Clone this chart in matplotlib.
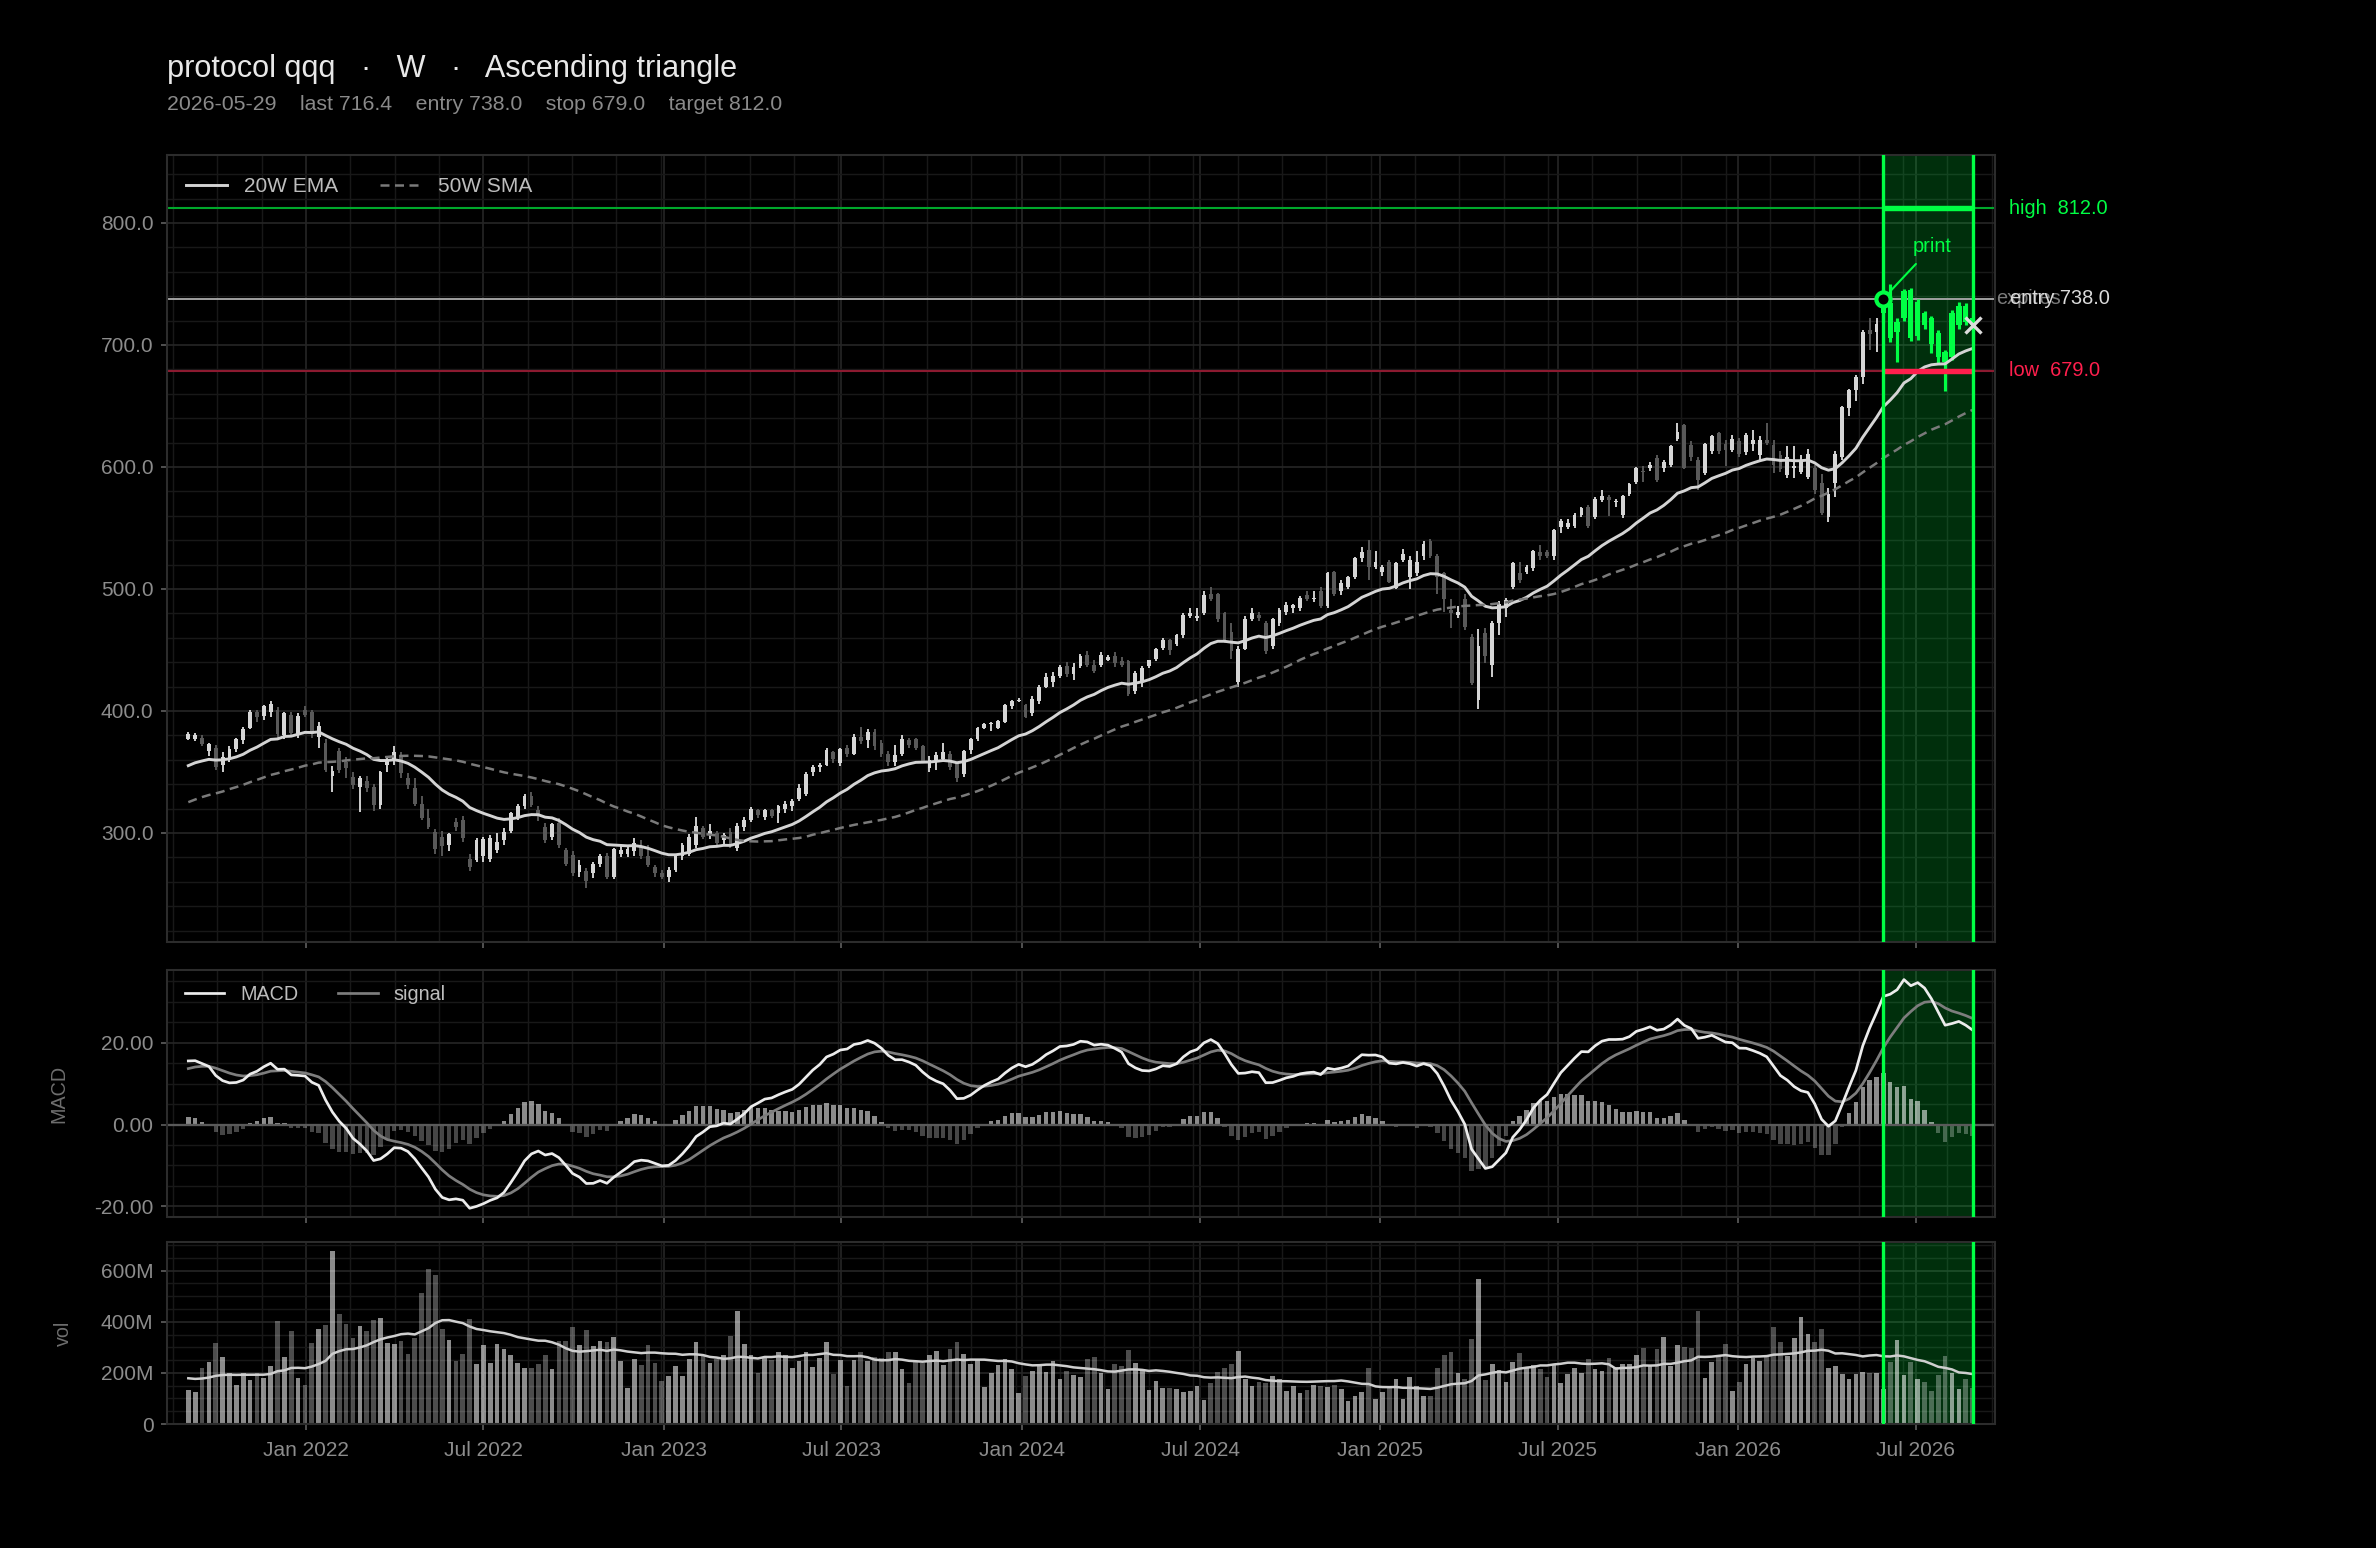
import numpy as np
import pandas as pd
import matplotlib
matplotlib.use("Agg")
import matplotlib.pyplot as plt
import matplotlib.dates as mdates
import matplotlib.transforms as mtransforms
from matplotlib.ticker import AutoMinorLocator, MultipleLocator, FixedLocator, FuncFormatter

plt.rcParams['font.family'] = ['Liberation Sans', 'DejaVu Sans']

# ---------------- data ----------------
first_bar = '2021-09-03'
n_bars = 261

opens = [377,377,378,367,370,356,360,369,376,386,
         399,396,399,401,380,397,381,401,399,379,
         374,347,367,358,346,338,343,338,323,356,
         359,364,345,337,324,312,301,297,290,309,
         311,279,278,281,279,286,294,302,313,322,
         330,319,305,297,308,286,282,268,269,267,
         275,281,264,283,283,285,289,281,272,267,
         264,270,281,283,290,304,298,300,294,301,
         288,305,311,319,313,319,316,320,322,328,
         332,350,354,356,366,357,370,365,379,376,
         383,374,365,358,365,376,377,371,353,360,
         361,365,357,348,368,377,386,389,386,391,
         404,408,405,398,408,420,424,429,437,430,
         437,446,438,438,442,445,441,441,416,424,
         437,443,452,458,455,462,478,476,480,496,
         496,480,465,424,451,475,479,472,453,472,
         481,484,484,495,492,498,486,514,498,502,
         510,525,532,518,514,522,501,524,510,513,
         527,539,527,513,483,479,492,461,409,464,
         438,472,484,502,513,514,517,530,530,527,
         551,551,552,561,567,559,573,575,571,561,
         578,588,597,599,607,599,602,623,634,618,
         606,595,613,628,619,614,621,612,619,610,
         622,618,610,593,599,596,592,599,587,559,
         587,608,648,663,674,712,711,726,734,711,
         722,745,707,726,722,710,694,690,716,732,
         722]

highs = [383,382,380,374,372,366,371,378,387,401,
         401,405,408,403,399,399,398,404,401,391,
         377,355,370,362,350,347,347,340,351,362,
         371,366,349,345,330,320,303,302,300,312,
         314,283,296,297,298,300,304,317,324,332,
         334,322,308,308,312,288,285,278,271,276,
         283,284,288,290,289,296,294,290,274,270,
         272,283,292,299,313,306,307,302,300,304,
         308,313,321,320,320,320,323,326,328,340,
         350,356,357,370,367,370,372,381,387,385,
         385,376,367,372,380,378,378,372,363,366,
         374,367,358,368,378,387,390,391,393,406,
         409,411,406,412,421,431,432,438,440,439,
         447,449,442,448,446,448,444,442,433,437,
         442,452,460,459,463,480,484,484,498,502,
         497,481,472,453,478,484,481,474,476,484,
         489,488,494,498,498,502,514,515,507,511,
         526,534,540,531,520,524,522,533,527,531,
         539,541,529,514,492,486,496,463,467,468,
         474,490,493,522,522,520,532,536,532,549,
         557,557,562,567,569,575,581,577,574,577,
         587,600,601,604,610,606,618,636,635,621,
         608,620,626,629,622,626,624,628,630,625,
         636,622,613,617,617,610,615,602,594,583,
         613,650,664,675,712,722,722,740,750,722,
         746,747,738,728,724,712,696,729,735,734,
         726]

lows = [376,375,371,363,352,350,358,366,373,385,
        391,393,395,378,377,379,378,395,378,370,
        350,334,349,345,336,317,334,318,320,350,
        356,345,336,322,311,303,283,281,285,302,
        293,269,276,276,276,284,290,300,311,320,
        321,310,292,294,288,273,265,264,255,263,
        272,262,262,280,280,281,279,272,264,262,
        260,268,278,281,288,295,295,290,290,288,
        285,302,309,312,311,312,308,316,318,326,
        330,347,350,355,357,355,362,364,373,370,
        368,362,355,355,363,370,368,357,350,352,
        358,352,342,346,365,375,385,384,385,390,
        402,407,394,396,406,419,420,427,428,425,
        435,436,431,436,441,436,436,412,414,420,
        435,441,450,446,453,460,476,474,479,490,
        473,456,443,420,450,474,474,447,451,470,
        479,480,482,490,489,484,484,494,495,500,
        508,522,507,516,511,505,500,522,500,511,
        524,525,496,481,468,476,466,421,402,439,
        428,462,477,500,505,512,515,524,525,524,
        546,549,550,559,550,557,571,560,567,558,
        576,586,588,597,588,596,600,621,598,605,
        581,593,611,611,601,612,608,610,613,606,
        618,595,596,591,591,594,590,578,561,555,
        575,606,642,654,668,696,694,718,702,686,
        720,703,704,713,693,685,662,688,713,716,
        703]

closes = [381,380,373,373,354,362,369,377,385,399,
          395,404,406,381,398,382,396,397,381,388,
          352,351,352,353,339,345,337,323,350,360,
          366,349,339,324,312,305,287,289,299,305,
          296,272,294,295,296,293,301,316,322,330,
          323,314,294,307,290,275,267,274,261,275,
          281,264,287,286,287,292,281,274,267,264,
          270,282,290,297,306,297,302,292,298,289,
          306,311,320,315,319,314,322,324,326,337,
          348,354,356,368,361,369,365,379,375,383,
          371,365,358,364,377,372,370,359,360,364,
          366,354,345,367,377,386,389,390,392,405,
          408,409,395,410,420,428,429,436,430,436,
          445,438,433,446,444,439,438,414,431,435,
          442,451,458,450,462,479,480,478,495,492,
          475,457,449,451,475,480,476,449,475,483,
          487,487,493,492,493,486,513,496,505,510,
          525,530,518,522,518,506,521,529,524,522,
          537,527,510,492,480,481,469,423,453,445,
          472,488,491,521,507,518,531,527,527,548,
          556,554,561,566,552,574,576,573,572,576,
          586,599,596,602,589,604,617,629,599,608,
          589,619,625,613,614,623,611,626,622,622,
          620,602,598,608,601,605,611,581,562,578,
          611,649,663,674,711,709,717,734,706,719,
          744,706,735,716,701,690,686,726,732,719,
          716.4]

# weekly volume, millions of shares
volumes_m = [133,126,220,243,317,263,199,153,199,173,
             199,181,228,403,263,364,181,153,317,372,
             386,676,430,391,337,384,364,407,415,317,
             313,325,274,337,512,606,582,372,329,247,
             274,411,235,309,239,313,294,270,239,220,
             220,235,270,216,325,325,380,309,368,306,
             325,321,341,247,142,255,231,309,239,169,
             189,228,189,255,321,267,239,255,270,345,
             442,313,270,200,259,251,282,270,220,247,
             282,224,259,321,196,251,150,251,282,247,
             263,259,282,282,216,161,243,239,270,286,
             231,294,321,274,235,251,146,200,231,255,
             216,122,189,208,228,204,247,177,208,192,
             185,254,263,200,138,234,226,290,239,213,
             134,169,142,142,138,126,130,150,95,161,
             204,220,235,286,177,150,165,161,189,177,
             130,150,122,134,153,150,146,153,138,91,
             111,126,220,99,126,142,177,99,185,150,
             111,111,220,270,282,200,177,333,568,173,
             235,212,165,243,278,220,231,216,185,231,
             161,196,220,200,255,216,208,259,224,235,
             235,270,298,231,294,341,228,309,302,298,
             442,181,243,263,313,130,165,235,259,247,
             263,380,321,267,337,419,352,321,372,220,
             228,196,177,196,204,200,200,138,243,329,
             192,243,177,165,130,192,267,200,138,177,
             142]

# history before the first plotted week (indicator warm-up only)
prior_closes = [282,270,268,271,273,289,287,285,270,294,
                292,292,300,304,305,311,313,314,320,315,
                329,315,333,338,331,315,311,316,312,316,
                323,335,338,334,333,326,320,321,326,329,
                341,347,352,355,362,362,366,369,371,372,
                372,377]
prior_volumes_m = [175,190,168,182,201,177,165,188,172,195,
                   181,170,186,199,176,168,184,190,178]

symbol = 'protocol qqq'
timeframe = 'W'
pattern = 'Ascending triangle'
signal_date = '2026-05-29'
window_end = '2026-08-28'
entry_px = 738.0
stop_px = 679.0
target_px = 812.0

# ---------------- derived ----------------
dates = pd.date_range(first_bar, periods=n_bars, freq='W-FRI')
x = mdates.date2num(dates.to_pydatetime())
O = np.array(opens, float); H = np.array(highs, float)
L = np.array(lows, float); C = np.array(closes, float)
V = np.array(volumes_m, float)

npc = len(prior_closes)
allc = pd.Series(prior_closes + list(closes), dtype=float)
ema20 = allc.ewm(span=20, adjust=False).mean().values[npc:]
sma50 = allc.rolling(50).mean().values[npc:]
macd_all = allc.ewm(span=12, adjust=False).mean() - allc.ewm(span=26, adjust=False).mean()
sig_all = macd_all.ewm(span=9, adjust=False).mean()
macd = macd_all.values[npc:]
sig = sig_all.values[npc:]
hist = macd - sig
npv = len(prior_volumes_m)
allv = pd.Series(prior_volumes_m + list(volumes_m), dtype=float)
vol_ma = allv.rolling(20).mean().values[npv:]

ws = mdates.date2num(pd.Timestamp(signal_date).to_pydatetime())
we = mdates.date2num(pd.Timestamp(window_end).to_pydatetime())
in_win = (x >= ws - 0.1) & (x <= we + 0.1)
up = C >= O

# ---------------- style ----------------
BG = '#000000'
GREEN = '#00ff44'
RED = '#ff1f4d'
TICK = '#8c8c8c'
GRID_MAJ = '#262626'
GRID_MIN = '#181818'
SPINE = '#2c2c2c'
FS = 10

fig = plt.figure(figsize=(15.84, 10.32), dpi=150, facecolor=BG)
L0, W0 = 0.0703, 0.7693
ax = fig.add_axes([L0, 0.3915, W0, 0.5084])
axm = fig.add_axes([L0, 0.2138, W0, 0.1596], sharex=ax)
axv = fig.add_axes([L0, 0.0801, W0, 0.1176], sharex=ax)

for a in (ax, axm, axv):
    a.set_facecolor(BG)
    for s in a.spines.values():
        s.set_color(SPINE)
        s.set_linewidth(1.0)
    a.tick_params(which='major', colors='#5e5e5e', labelcolor=TICK, labelsize=FS,
                  length=3, width=0.8, direction='out')
    a.tick_params(axis='x', which='major', pad=5)
    a.tick_params(which='minor', length=0)
    a.grid(which='major', color=GRID_MAJ, lw=0.8, zorder=0)
    a.grid(which='minor', color=GRID_MIN, lw=0.7, zorder=0)
    a.set_axisbelow(True)
    a.axvspan(ws, we, color=GREEN, alpha=0.19, lw=0, zorder=0.6)
    a.axvline(ws, color=GREEN, lw=1.6, zorder=5)
    a.axvline(we, color=GREEN, lw=1.6, zorder=5)

ax.set_xlim(x[0] - 3.1 * 7, x[-1] + 3.25 * 7)
ax.xaxis.set_major_locator(mdates.MonthLocator(bymonth=[1, 7]))
ax.xaxis.set_major_formatter(mdates.DateFormatter('%b %Y'))
ax.xaxis.set_minor_locator(AutoMinorLocator(4))
plt.setp(ax.get_xticklabels(), visible=False)
plt.setp(axm.get_xticklabels(), visible=False)

# ---------------- price panel ----------------
ccol = np.where(in_win, GREEN, np.where(up, '#d6d6d6', '#595959'))
bw = np.where(in_win, 5.4, 3.9)
wlw = np.where(in_win, 1.5, 0.9)
ax.vlines(x, L, H, colors=ccol, lw=wlw, zorder=3)
ax.bar(x, np.maximum(np.abs(C - O), 0.7), bottom=np.minimum(O, C), width=bw,
       color=ccol, lw=0, zorder=3)
ax.plot(x, ema20, color='#d4d4d4', lw=1.4, label='20W EMA', zorder=4)
ax.plot(x, sma50, color='#7a7a7a', lw=1.2, ls=(0, (3.6, 2.2)), label='50W SMA', zorder=4)

ax.axhline(target_px, color='#00a82b', lw=1.0, zorder=2)
ax.hlines(target_px, ws, we, color=GREEN, lw=2.6, zorder=4.5)
ax.axhline(entry_px, color='#a6a6a6', lw=0.9, zorder=2)
ax.axhline(stop_px, color='#8c1a30', lw=1.0, zorder=2)
ax.hlines(stop_px, ws, we, color=RED, lw=2.6, zorder=4.5)

ax.plot([ws], [entry_px], 'o', ms=6.8, mfc='#000000', mec=GREEN, mew=2.0, zorder=7)
ax.annotate('print', xy=(ws, entry_px), xytext=(23.5, 25), textcoords='offset points',
            color=GREEN, fontsize=9.6, ha='center', va='center',
            arrowprops=dict(arrowstyle='-', color=GREEN, lw=1.0, shrinkA=2.5, shrinkB=5.5),
            zorder=7)
ax.plot([x[-1]], [C[-1]], 'x', ms=7.5, mew=1.6, color='#dcdcdc', zorder=7)

trans = mtransforms.blended_transform_factory(ax.transAxes, ax.transData)
ax.text(1.0005, entry_px, 'expires', transform=trans, color='#7b7b7b', fontsize=9.6,
        va='center', ha='left')
ax.text(1.0077, target_px, f'high  {target_px:.1f}', transform=trans, color=GREEN,
        fontsize=9.6, va='center', ha='left')
ax.text(1.0082, entry_px, f'entry {entry_px:.1f}', transform=trans, color='#dadada',
        fontsize=9.6, va='center', ha='left')
ax.text(1.0077, stop_px, f'low  {stop_px:.1f}', transform=trans, color=RED,
        fontsize=9.6, va='center', ha='left')

ax.set_ylim(210.7, 855.7)
ax.yaxis.set_major_locator(MultipleLocator(100))
ax.yaxis.set_minor_locator(MultipleLocator(20))
ax.yaxis.set_major_formatter(FuncFormatter(lambda v, p: f'{v:.1f}'))
leg = ax.legend(loc='upper left', ncol=2, frameon=False, fontsize=FS, labelcolor='#bdbdbd',
                handlelength=2.0, columnspacing=2.0, bbox_to_anchor=(0, 0.996))

# ---------------- MACD panel ----------------
hcol = [(1, 1, 1, 0.55) if h >= 0 else (1, 1, 1, 0.28) for h in hist]
axm.bar(x, hist, width=4.5, color=hcol, lw=0, zorder=2)
axm.axhline(0, color='#5a5a5a', lw=1.1, zorder=2)
axm.plot(x, macd, color='#ececec', lw=1.3, label='MACD', zorder=4)
axm.plot(x, sig, color='#7d7d7d', lw=1.3, label='signal', zorder=3)
axm.set_ylim(-22.6, 37.8)
axm.yaxis.set_major_locator(FixedLocator([-20, 0, 20]))
axm.yaxis.set_minor_locator(MultipleLocator(5))
axm.yaxis.set_major_formatter(FuncFormatter(lambda v, p: f'{v:.2f}'))
axm.set_ylabel('MACD', color='#6e6e6e', fontsize=9.5)
axm.yaxis.set_label_coords(-0.054, 0.5)
axm.legend(loc='upper left', ncol=2, frameon=False, fontsize=9.5, labelcolor='#bdbdbd',
           handlelength=2.0, columnspacing=2.0, bbox_to_anchor=(0, 1.01))

# ---------------- volume panel ----------------
vcol = [(1, 1, 1, 0.55) if u else (1, 1, 1, 0.3) for u in up]
axv.bar(x, V, width=4.8, color=vcol, lw=0, zorder=2)
axv.plot(x, vol_ma, color='#cfcfcf', lw=1.2, zorder=3)
axv.set_ylim(0, 712)
axv.yaxis.set_major_locator(FixedLocator([0, 200, 400, 600]))
axv.yaxis.set_minor_locator(MultipleLocator(50))
axv.yaxis.set_major_formatter(FuncFormatter(lambda v, p: '0' if v == 0 else f'{v:.0f}M'))
axv.set_ylabel('vol', color='#6e6e6e', fontsize=9.5)
axv.yaxis.set_label_coords(-0.0514, 0.5)

# ---------------- titles ----------------
fig.text(L0, 0.9554, f'{symbol}   ·   {timeframe}   ·   {pattern}', color='#e8e8e8',
         fontsize=14.7, va='center', ha='left')
fig.text(L0, 0.9322,
         f'{signal_date}    last {C[-1]:.1f}    entry {entry_px:.1f}    stop {stop_px:.1f}    target {target_px:.1f}',
         color='#8a8a8a', fontsize=10.2, va='center', ha='left')

fig.savefig('out.png', dpi=150, facecolor=BG)
